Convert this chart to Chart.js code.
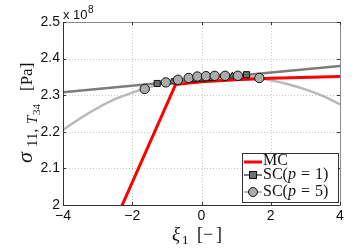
<!DOCTYPE html>
<html><head><meta charset="utf-8">
<script src="https://cdn.jsdelivr.net/npm/chart.js@4"></script>
<style>html,body{margin:0;padding:0;background:#fff;overflow:hidden}#wrap{width:354px;height:252px;position:relative}</style>
</head><body><div id="wrap"><canvas id="c"></canvas></div>
<script>
const xTicks = [-4, -2, 0, 2, 4];
const yTicks = [2, 2.1, 2.2, 2.3, 2.4, 2.5];
const mcX = [-2.5, -0.75, 0, 1, 2, 4];
const mcY = [1.955, 2.329, 2.337, 2.342, 2.346, 2.351];
const sc1LineX = [-4, 4];
const sc1LineY = [2.308, 2.380];
const sc5CurveX = [-4, -3.5, -3, -2.5, -2, -1.5, -1, -0.5, 0, 0.5, 1, 1.5, 2, 2.5, 3, 3.5, 4];
const sc5CurveY = [2.205, 2.237, 2.265, 2.289, 2.307, 2.322, 2.335, 2.344, 2.350, 2.353, 2.353, 2.349, 2.341, 2.330, 2.316, 2.298, 2.275];
const sc1PtsX = [-1.28, 1.30];
const sc1PtsY = [2.332, 2.356];
const sc1MidX = [-0.85, -0.22, 0.02, 0.26, 0.89];
const sc1MidY = [2.336, 2.342, 2.344, 2.346, 2.352];
const sc5PtsX = [-1.64, -1.03, -0.68, -0.37, -0.12, 0.13, 0.38, 0.68, 1.05, 1.67];
const sc5PtsY = [2.317, 2.335, 2.342, 2.347, 2.351, 2.352, 2.353, 2.353, 2.353, 2.347];

const pts = (xs, ys) => xs.map((x, i) => ({x: x, y: ys[i]}));
const RED = '#ff0000', DARK = '#7c7c7c', LIGHT = '#b9b9b9';
const SERIF = '"Liberation Serif","DejaVu Serif",serif';
const SANS = '"Liberation Sans",Arial,sans-serif';

function rich(ctx, parts, x, y, align) {
  let w = 0;
  parts.forEach(p => { ctx.font = p[1]; w += ctx.measureText(p[0]).width + (p[3] || 0); });
  let cx = align === 'center' ? x - w / 2 : x;
  parts.forEach(p => {
    ctx.font = p[1];
    ctx.fillText(p[0], cx, y + (p[2] || 0));
    cx += ctx.measureText(p[0]).width + (p[3] || 0);
  });
}
function placed(ctx, parts, y) {
  parts.forEach(p => { ctx.font = p[1]; ctx.fillText(p[0], p[2], y + (p[3] || 0)); });
}

const deco = {
  id: 'deco',
  beforeDatasetsDraw(chart) {
    const {ctx, chartArea: a, scales: {x, y}} = chart;
    ctx.save();
    ctx.strokeStyle = '#c8c8c8';
    ctx.lineWidth = 1;
    ctx.setLineDash([1, 2]);
    xTicks.slice(1, -1).forEach(t => {
      const px = Math.round(x.getPixelForValue(t)) + 0.5;
      ctx.beginPath(); ctx.moveTo(px, a.top); ctx.lineTo(px, a.bottom); ctx.stroke();
    });
    yTicks.slice(1, -1).forEach(t => {
      const py = Math.round(y.getPixelForValue(t)) + 0.5;
      ctx.beginPath(); ctx.moveTo(a.left, py); ctx.lineTo(a.right, py); ctx.stroke();
    });
    ctx.restore();
  },
  afterDraw(chart) {
    const {ctx, chartArea: a, scales: {x, y}} = chart;
    ctx.save();
    ctx.setLineDash([]);
    ctx.lineWidth = 1;
    ctx.strokeStyle = '#8a8a8a';
    ctx.beginPath();
    ctx.moveTo(a.left + 0.5, a.top + 0.5); ctx.lineTo(a.right + 0.5, a.top + 0.5); ctx.lineTo(a.right + 0.5, a.bottom + 0.5);
    ctx.stroke();
    ctx.strokeStyle = '#333';
    ctx.beginPath();
    ctx.moveTo(a.left + 0.5, a.top + 0.5); ctx.lineTo(a.left + 0.5, a.bottom + 0.5); ctx.lineTo(a.right + 0.5, a.bottom + 0.5);
    ctx.stroke();
    xTicks.forEach(t => {
      const px = Math.round(x.getPixelForValue(t)) + 0.5;
      ctx.beginPath(); ctx.moveTo(px, a.bottom); ctx.lineTo(px, a.bottom - 3); ctx.stroke();
      ctx.beginPath(); ctx.moveTo(px, a.top); ctx.lineTo(px, a.top + 3); ctx.stroke();
    });
    yTicks.forEach(t => {
      const py = Math.round(y.getPixelForValue(t)) + 0.5;
      ctx.beginPath(); ctx.moveTo(a.left, py); ctx.lineTo(a.left + 3, py); ctx.stroke();
      ctx.beginPath(); ctx.moveTo(a.right, py); ctx.lineTo(a.right - 3, py); ctx.stroke();
    });
    ctx.fillStyle = '#111';
    ctx.textBaseline = 'alphabetic';
    ctx.textAlign = 'left';
    rich(ctx, [['x 10', '13px ' + SANS, 0, 0.5], ['8', '10px ' + SANS, -6]], a.left, 19, 'left');
    // x title
    placed(ctx, [['ξ', 'italic 19px ' + SERIF, 172], ['1', '13px ' + SERIF, 182, 4], ['[', '18px ' + SERIF, 197],
      ['\u2212', '18px ' + SERIF, 203], [']', '18px ' + SERIF, 216]], 240);
    // y title
    ctx.translate(0, 163);
    ctx.rotate(-Math.PI / 2);
    placed(ctx, [['σ', 'italic 22px ' + SERIF, 0], ['11,', '15px ' + SERIF, 16, 5], ['T', 'italic 15px ' + SERIF, 39, 5],
      ['34', '11px ' + SERIF, 48, 8], ['[Pa]', '17px ' + SERIF, 72]], 32);
    ctx.setTransform(1, 0, 0, 1, 0, 0);
    // legend
    const bx = 242, by = 153, bw = 96, bh = 49;
    ctx.fillStyle = '#fff';
    ctx.fillRect(bx, by, bw, bh);
    ctx.strokeStyle = '#333';
    ctx.strokeRect(bx + 0.5, by + 0.5, bw, bh);
    const F = '16px ' + SERIF, FI = 'italic 16px ' + SERIF;
    const rows = [
      {yy: 162, ty: 165, color: RED, lw: 3, marker: null, parts: [['MC', F, 0]]},
      {yy: 175, ty: 179, color: DARK, lw: 2, marker: 'sq', parts: [['SC(', F, 0], ['p', FI, 0, 5], ['=', F, 0, 5], ['1)', F, 0]]},
      {yy: 192, ty: 196, color: LIGHT, lw: 2, marker: 'ci', parts: [['SC(', F, 0], ['p', FI, 0, 5], ['=', F, 0, 5], ['5)', F, 0]]}
    ];
    rows.forEach(r => {
      ctx.strokeStyle = r.color; ctx.lineWidth = r.lw;
      ctx.beginPath(); ctx.moveTo(244, r.yy); ctx.lineTo(262, r.yy); ctx.stroke();
      ctx.lineWidth = 1; ctx.strokeStyle = '#111';
      if (r.marker === 'sq') { ctx.fillStyle = '#707070'; ctx.fillRect(249.5, r.yy - 3.5, 7, 7); ctx.strokeRect(249.5, r.yy - 3.5, 7, 7); }
      if (r.marker === 'ci') { ctx.fillStyle = '#ababab'; ctx.beginPath(); ctx.arc(253, r.yy, 4.5, 0, Math.PI * 2); ctx.fill(); ctx.stroke(); }
      ctx.fillStyle = '#111';
      rich(ctx, r.parts, 263, r.ty, 'left');
    });
    ctx.restore();
  }
};

new Chart(document.getElementById('c'), {
  type: 'scatter',
  data: {
    datasets: [
      {label: 'SC(p = 5) pts', data: pts(sc5PtsX, sc5PtsY), showLine: false, pointRadius: 4.7, pointBackgroundColor: '#ababab', pointBorderColor: '#111', pointBorderWidth: 1, order: 0},
      {label: 'SC(p = 1) pts', data: pts(sc1PtsX, sc1PtsY), showLine: false, pointStyle: 'rect', pointRadius: 4.3, pointBackgroundColor: '#707070', pointBorderColor: '#111', pointBorderWidth: 1, order: 1},
      {label: 'SC(p = 1) mid', data: pts(sc1MidX, sc1MidY), showLine: false, pointStyle: 'triangle', pointRadius: 4, pointBackgroundColor: '#707070', pointBorderColor: '#111', pointBorderWidth: 1, order: 2},
      {label: 'MC', data: pts(mcX, mcY), showLine: true, borderColor: RED, borderWidth: 3, pointRadius: 0, order: 3},
      {label: 'SC(p = 1)', data: pts(sc1LineX, sc1LineY), showLine: true, borderColor: DARK, borderWidth: 2.5, pointRadius: 0, order: 4},
      {label: 'SC(p = 5)', data: pts(sc5CurveX, sc5CurveY), showLine: true, borderColor: LIGHT, borderWidth: 2.5, pointRadius: 0, cubicInterpolationMode: 'monotone', order: 5}
    ]
  },
  options: {
    responsive: true, maintainAspectRatio: false, animation: false,
    layout: {padding: {top: 22, right: 14, left: 0, bottom: 0}},
    plugins: {legend: {display: false}, tooltip: {enabled: false}},
    scales: {
      x: {
        type: 'linear', min: -4, max: 4,
        afterBuildTicks: s => { s.ticks = xTicks.map(v => ({value: v})); },
        afterFit: s => { s.height = 47; },
        grid: {display: false, drawTicks: false}, border: {display: false},
        ticks: {padding: 3, color: '#111', font: {family: SANS, size: 14}, maxRotation: 0,
          callback: v => (v < 0 ? '\u2212' + Math.abs(v) : String(v))}
      },
      y: {
        type: 'linear', min: 2, max: 2.5,
        afterBuildTicks: s => { s.ticks = yTicks.map(v => ({value: v})); },
        afterFit: s => { s.width = 63; },
        grid: {display: false, drawTicks: false}, border: {display: false},
        ticks: {padding: 3, color: '#111', font: {family: SANS, size: 14},
          callback: v => String(Math.round(v * 10) / 10)}
      }
    }
  },
  plugins: [deco]
});
</script></body></html>
